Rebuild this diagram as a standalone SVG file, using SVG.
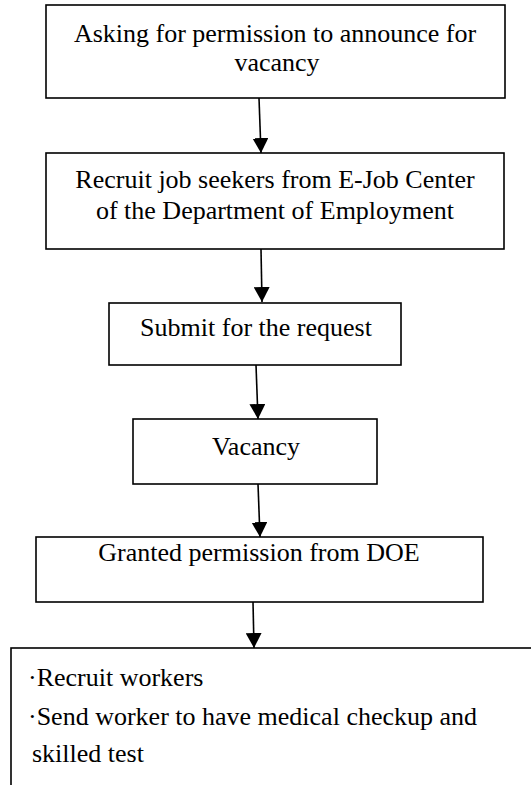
<svg xmlns="http://www.w3.org/2000/svg" width="531" height="785" viewBox="0 0 531 785">
<style>
.box{fill:#fff;stroke:#000;stroke-width:1.6}
.t{font-family:"Liberation Serif","Times New Roman",serif;font-size:26px;fill:#000}
.c{text-anchor:middle}
.conn{stroke:#000;stroke-width:1.6;fill:none}
</style>
<defs>
<marker id="ah" markerUnits="userSpaceOnUse" markerWidth="16" markerHeight="16" viewBox="0 0 16 16" refX="15" refY="8" orient="auto">
<path d="M0,0 L15,8 L0,16 Z" fill="#000"/>
</marker>
</defs>
<rect width="531" height="785" fill="#fff"/>
<g id="n1">
<rect class="box" x="46" y="5" width="459" height="93"/>
<text class="t c" x="275" y="42">Asking for permission to announce for</text>
<text class="t c" x="277" y="71">vacancy</text>
</g>
<g id="n2">
<rect class="box" x="46" y="153" width="458" height="96"/>
<text class="t c" x="275" y="188">Recruit job seekers from E-Job Center</text>
<text class="t c" x="275" y="219">of the Department of Employment</text>
</g>
<g id="n3">
<rect class="box" x="109" y="303" width="292" height="62"/>
<text class="t c" x="256" y="336">Submit for the request</text>
</g>
<g id="n4">
<rect class="box" x="133" y="419" width="244" height="65"/>
<text class="t c" x="256" y="455">Vacancy</text>
</g>
<g id="n5">
<rect class="box" x="36" y="537" width="447" height="65"/>
<text class="t c" x="259" y="561">Granted permission from DOE</text>
</g>
<g id="n6">
<rect class="box" x="11" y="648" width="540" height="160"/>
<text class="t" x="28" y="686">·Recruit workers</text>
<text class="t" x="28" y="725">·Send worker to have medical checkup and</text>
<text class="t" x="32" y="762">skilled test</text>
</g>
<g id="connectors">
<path class="conn" d="M259,98 L261,153" marker-end="url(#ah)"/>
<path class="conn" d="M261,249 L262,302" marker-end="url(#ah)"/>
<path class="conn" d="M256,365 L258,419" marker-end="url(#ah)"/>
<path class="conn" d="M258,484 L260,537" marker-end="url(#ah)"/>
<path class="conn" d="M253,602 L254,648" marker-end="url(#ah)"/>
</g>
</svg>
